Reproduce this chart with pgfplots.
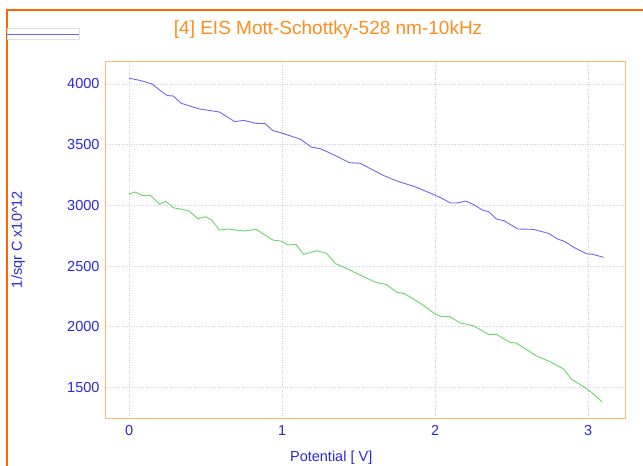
\documentclass[border=0pt]{standalone}
\usepackage{pgfplots}
\pgfplotsset{compat=1.18}
\usepackage{fontspec}
\setmainfont{Liberation Sans}
\definecolor{frameor}{RGB}{255,102,0}
\definecolor{titleor}{RGB}{255,140,30}
\definecolor{boxor}{RGB}{255,185,110}
\definecolor{txtblue}{RGB}{40,40,220}
\definecolor{gridc}{RGB}{205,205,242}
\definecolor{lblue}{RGB}{105,105,240}
\definecolor{lgreen}{RGB}{100,215,100}
\begin{document}
\begin{tikzpicture}[x=1pt,y=1pt]
\clip (0,0) rectangle (643,466);
\draw[frameor, line width=2pt] (7,-20) -- (7,456) -- (660,456);
\draw[gray!25, line width=1pt] (7,437) rectangle (79,426);
\draw[lblue, line width=0.9pt] (7,432) -- (79,432);
\begin{axis}[
  at={(105pt,48pt)}, anchor=south west,
  scale only axis, width=520pt, height=357pt,
  xmin=-0.157, xmax=3.24, ymin=1250, ymax=4189,
  xtick={0,1,2,3}, ytick={1500,2000,2500,3000,3500,4000},
  major tick length=0pt,
  axis line style={boxor, line width=0.9pt},
  grid=major,
  major grid style={gridc, dotted, line width=0.9pt},
  /pgf/number format/assume math mode=true,
  /pgf/number format/1000 sep={},
  ticklabel style={font=\fontsize{14.5}{17}\selectfont, text=txtblue},
  yticklabel style={xshift=-2pt},
  xticklabel style={yshift=-4pt},
  title={[4] EIS Mott-Schottky-528 nm-10kHz},
  title style={at={(axis description cs:0.429,1.070)}, anchor=center, font=\fontsize{19}{22}\selectfont, text=titleor},
  xlabel={Potential [ V]},
  xlabel style={at={(axis description cs:0.435,-0.111)}, anchor=center, font=\fontsize{14.5}{17}\selectfont, text=txtblue},
  ylabel={1/sqr C x10\^{}12},
  ylabel style={at={(axis description cs:-0.167,0.5)}, anchor=center, font=\fontsize{14.5}{17}\selectfont, text=txtblue},
]
\addplot[lblue, line width=0.9pt] coordinates {
(0.00,4047) (0.07,4030) (0.15,4000) (0.20,3950) (0.25,3904) (0.29,3901) (0.34,3841)
(0.46,3794) (0.59,3769) (0.69,3690) (0.75,3700) (0.83,3676) (0.89,3673) (0.94,3615)
(0.99,3599) (1.05,3574) (1.12,3545) (1.19,3481) (1.25,3467) (1.34,3415) (1.44,3352)
(1.51,3347) (1.66,3248) (1.75,3201) (1.88,3149) (1.97,3100) (2.03,3067) (2.10,3020)
(2.14,3020) (2.20,3036) (2.24,3014) (2.31,2962) (2.35,2948) (2.40,2888) (2.45,2874)
(2.54,2806) (2.64,2803) (2.74,2770) (2.80,2723) (2.84,2707) (2.91,2652) (2.99,2602)
(3.03,2597) (3.10,2573)
};
\addplot[lgreen, line width=0.9pt] coordinates {
(0.00,3094) (0.04,3110) (0.09,3080) (0.14,3083) (0.20,3009) (0.24,3034) (0.29,2981)
(0.39,2956) (0.45,2891) (0.50,2907) (0.54,2880) (0.59,2797) (0.64,2806) (0.75,2789)
(0.83,2803) (0.94,2715) (0.99,2707) (1.04,2674) (1.09,2680) (1.14,2597) (1.23,2627)
(1.29,2605) (1.35,2520) (1.42,2482) (1.51,2427) (1.61,2367) (1.68,2350) (1.75,2284)
(1.80,2274) (1.92,2180) (2.00,2105) (2.05,2082) (2.09,2089) (2.16,2034) (2.25,2009)
(2.35,1938) (2.40,1938) (2.49,1872) (2.53,1867) (2.66,1762) (2.75,1713) (2.84,1653)
(2.89,1570) (2.97,1507) (3.03,1452) (3.09,1383)
};
\end{axis}
\end{tikzpicture}
\end{document}
